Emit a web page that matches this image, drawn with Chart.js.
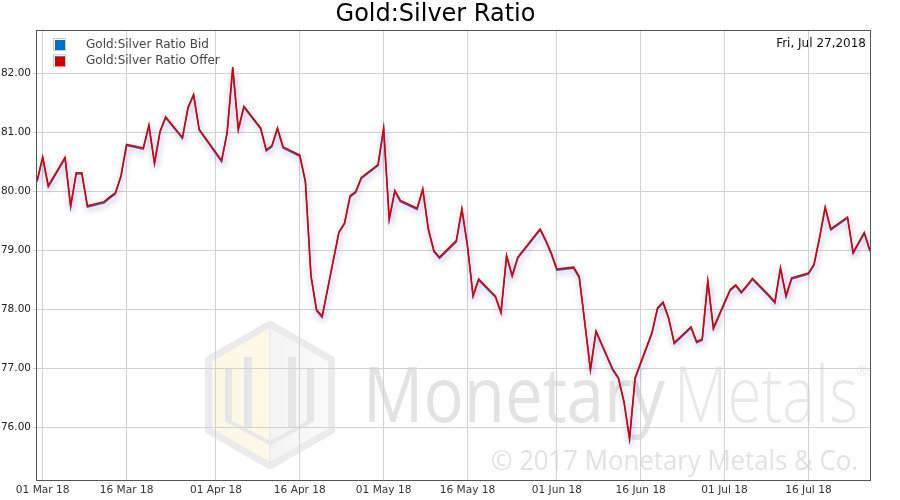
<!DOCTYPE html>
<html>
<head>
<meta charset="utf-8">
<title>Gold:Silver Ratio</title>
<script src="https://cdn.jsdelivr.net/npm/chart.js@4.4.1/dist/chart.umd.min.js"></script>
<style>
  html, body { margin: 0; padding: 0; background: #fff; }
  #chartRatio { display: block; }
</style>
</head>
<body>
<canvas id="chartRatio" width="900" height="500"></canvas>
<script>
// trading days shown on the chart
const dates = [
  "2018-02-28","2018-03-01","2018-03-02","2018-03-05","2018-03-06","2018-03-07","2018-03-08","2018-03-09",
  "2018-03-12","2018-03-13","2018-03-14","2018-03-15","2018-03-16",
  "2018-03-19","2018-03-20","2018-03-21","2018-03-22","2018-03-23",
  "2018-03-26","2018-03-27","2018-03-28","2018-03-29",
  "2018-04-02","2018-04-03","2018-04-04","2018-04-05","2018-04-06",
  "2018-04-09","2018-04-10","2018-04-11","2018-04-12","2018-04-13",
  "2018-04-16","2018-04-17","2018-04-18","2018-04-19","2018-04-20",
  "2018-04-23","2018-04-24","2018-04-25","2018-04-26","2018-04-27",
  "2018-04-30","2018-05-01","2018-05-02","2018-05-03","2018-05-04",
  "2018-05-07","2018-05-08","2018-05-09","2018-05-10","2018-05-11",
  "2018-05-14","2018-05-15","2018-05-16","2018-05-17","2018-05-18",
  "2018-05-21","2018-05-22","2018-05-23","2018-05-24","2018-05-25",
  "2018-05-29","2018-05-30","2018-05-31","2018-06-01",
  "2018-06-04","2018-06-05","2018-06-06","2018-06-07","2018-06-08",
  "2018-06-11","2018-06-12","2018-06-13","2018-06-14","2018-06-15",
  "2018-06-18","2018-06-19","2018-06-20","2018-06-21","2018-06-22",
  "2018-06-25","2018-06-26","2018-06-27","2018-06-28","2018-06-29",
  "2018-07-02","2018-07-03","2018-07-04","2018-07-05","2018-07-06",
  "2018-07-09","2018-07-10","2018-07-11","2018-07-12","2018-07-13",
  "2018-07-16","2018-07-17","2018-07-18","2018-07-19","2018-07-20",
  "2018-07-23","2018-07-24","2018-07-25","2018-07-26","2018-07-27"
];

const ratioBid = [
  80.16,80.56,80.07,80.55,79.73,80.29,80.29,79.73,
  79.80,79.88,79.95,80.24,80.77,
  80.71,81.10,80.46,81.00,81.24,
  80.89,81.40,81.62,81.03,
  80.50,80.98,82.08,81.03,81.42,
  81.05,80.68,80.75,81.05,80.73,
  80.59,80.15,78.55,77.97,77.86,
  79.29,79.44,79.90,79.97,80.21,
  80.43,81.05,79.51,79.99,79.82,
  79.69,80.02,79.34,78.97,78.86,
  79.14,79.68,79.06,78.21,78.49,
  78.20,77.93,78.89,78.55,78.86,
  79.34,79.15,78.93,78.66,
  78.69,78.53,77.75,76.96,77.61,
  76.96,76.82,76.42,75.79,76.82,
  77.58,78.00,78.10,77.83,77.41,
  77.68,77.43,77.47,78.46,77.66,
  78.31,78.39,78.27,78.38,78.50,
  78.21,78.10,78.68,78.21,78.51,
  78.59,78.74,79.20,79.71,79.34,
  79.54,78.94,79.11,79.28,78.98
];

const ratioOffer = [
  80.18,80.58,80.09,80.57,79.75,80.31,80.31,79.75,
  79.82,79.90,79.97,80.26,80.79,
  80.73,81.12,80.48,81.02,81.26,
  80.91,81.42,81.64,81.05,
  80.52,81.00,82.10,81.05,81.44,
  81.07,80.70,80.77,81.07,80.75,
  80.61,80.17,78.57,77.99,77.88,
  79.31,79.46,79.92,79.99,80.23,
  80.45,81.07,79.53,80.01,79.84,
  79.71,80.04,79.36,78.99,78.88,
  79.16,79.70,79.08,78.23,78.51,
  78.22,77.95,78.91,78.57,78.88,
  79.36,79.17,78.95,78.68,
  78.71,78.55,77.77,76.98,77.63,
  76.98,76.84,76.44,75.81,76.84,
  77.60,78.02,78.12,77.85,77.43,
  77.70,77.45,77.49,78.48,77.68,
  78.33,78.41,78.29,78.40,78.52,
  78.23,78.12,78.70,78.23,78.53,
  78.61,78.76,79.22,79.73,79.36,
  79.56,78.96,79.13,79.30,79.00
];

const yTickValues = [76, 77, 78, 79, 80, 81, 82];
const xTickDates = ["2018-03-01","2018-03-16","2018-04-01","2018-04-16","2018-05-01",
                    "2018-05-16","2018-06-01","2018-06-16","2018-07-01","2018-07-16"];
const seriesLabels = ["Gold:Silver Ratio Bid", "Gold:Silver Ratio Offer"];
const asOfText = "Fri, Jul 27,2018";

const ORIGIN = Date.parse("2018-03-01T00:00:00Z");
const DAY = 86400000;
const MONTHS = ["Jan","Feb","Mar","Apr","May","Jun","Jul","Aug","Sep","Oct","Nov","Dec"];

function dayNum(s) {
  return (Date.parse(s + "T00:00:00Z") - ORIGIN) / DAY;
}

function dayLabel(d) {
  const t = new Date(ORIGIN + Math.round(d) * DAY);
  return String(t.getUTCDate()).padStart(2, "0") + " " + MONTHS[t.getUTCMonth()] + " " +
    String(t.getUTCFullYear()).slice(2);
}

// text drawn squeezed/stretched to a given width
function fitText(ctx, text, x, y, width) {
  const w = ctx.measureText(text).width;
  ctx.save();
  ctx.translate(x, y);
  ctx.scale(width / w, 1);
  ctx.fillText(text, 0, 0);
  ctx.restore();
}

const watermark = {
  id: "watermark",
  beforeDraw(chart) {
    const ctx = chart.ctx;
    ctx.save();
    ctx.fillStyle = "#fff";
    ctx.fillRect(0, 0, chart.width, chart.height);

    // hexagon logo
    const cx = 270, cy = 395, r = 71;
    const pts = [];
    for (let k = 0; k < 6; k++) {
      const a = (-90 + 60 * k) * Math.PI / 180;
      pts.push([cx + r * Math.cos(a), cy + r * Math.sin(a)]);
    }
    ctx.beginPath();
    pts.forEach((p, i) => i ? ctx.lineTo(p[0], p[1]) : ctx.moveTo(p[0], p[1]));
    ctx.closePath();
    ctx.fillStyle = "#f7f7f7";
    ctx.fill();

    // left face cream, right face grey-white
    const left = ctx.createLinearGradient(cx - r, 0, cx, 0);
    left.addColorStop(0, "#fcf7e6");
    left.addColorStop(1, "#fdf8e8");
    ctx.beginPath();
    ctx.moveTo(pts[0][0], pts[0][1]);
    ctx.lineTo(pts[5][0], pts[5][1]);
    ctx.lineTo(pts[4][0], pts[4][1]);
    ctx.lineTo(pts[3][0], pts[3][1]);
    ctx.closePath();
    ctx.fillStyle = left;
    ctx.fill();
    const right = ctx.createLinearGradient(cx, 0, cx + r, 0);
    right.addColorStop(0, "#f4f4f4");
    right.addColorStop(1, "#fbfbfb");
    ctx.beginPath();
    ctx.moveTo(pts[0][0], pts[0][1]);
    ctx.lineTo(pts[1][0], pts[1][1]);
    ctx.lineTo(pts[2][0], pts[2][1]);
    ctx.lineTo(pts[3][0], pts[3][1]);
    ctx.closePath();
    ctx.fillStyle = right;
    ctx.fill();

    ctx.beginPath();
    pts.forEach((p, i) => i ? ctx.lineTo(p[0], p[1]) : ctx.moveTo(p[0], p[1]));
    ctx.closePath();
    ctx.lineWidth = 7;
    ctx.lineJoin = "round";
    ctx.strokeStyle = "#ebebeb";
    ctx.stroke();

    ctx.strokeStyle = "#ececec";
    ctx.lineWidth = 2;
    ctx.beginPath();
    ctx.moveTo(cx, cy - r + 3);
    ctx.lineTo(cx, cy + r - 3);
    ctx.stroke();

    // "M" bars
    ctx.fillStyle = "#e6e6e6";
    ctx.fillRect(225, 368, 7, 54);
    ctx.fillRect(244, 357, 8, 70);
    ctx.fillRect(288, 357, 8, 70);
    ctx.fillRect(307, 368, 7, 54);
    ctx.strokeStyle = "#e8e8e8";
    ctx.lineWidth = 4;
    ctx.beginPath();
    ctx.moveTo(228, 421);
    ctx.lineTo(cx, 443);
    ctx.lineTo(311, 421);
    ctx.stroke();

    // brand text
    ctx.textBaseline = "alphabetic";
    ctx.fillStyle = "#e3e3e3";
    ctx.font = "400 77px 'Open Sans', sans-serif";
    fitText(ctx, "Monetary", 363, 422, 302);
    ctx.fillStyle = "#e9e9e9";
    ctx.font = "300 77px 'Open Sans', sans-serif";
    fitText(ctx, "Metals", 674, 422, 184);
    ctx.font = "14px 'Open Sans', sans-serif";
    ctx.fillText("\u00AE", 856, 376);

    ctx.fillStyle = "#e2e2e2";
    ctx.font = "400 28px 'Open Sans', sans-serif";
    fitText(ctx, "\u00A9 2017 Monetary Metals & Co.", 491, 470, 367);
    ctx.restore();
  }
};

const lineShadow = {
  id: "lineShadow",
  beforeDatasetsDraw(chart) {
    const ctx = chart.ctx;
    ctx.save();
    ctx.shadowColor = "rgba(90, 70, 170, 0.32)";
    ctx.shadowBlur = 6;
    ctx.shadowOffsetX = 1;
    ctx.shadowOffsetY = 3;
  },
  afterDatasetsDraw(chart) {
    chart.ctx.restore();
  }
};

const frameAndLegend = {
  id: "frameAndLegend",
  afterDraw(chart) {
    const ctx = chart.ctx;
    const a = chart.chartArea;
    ctx.save();
    ctx.strokeStyle = "#555";
    ctx.lineWidth = 1;
    ctx.strokeRect(Math.round(a.left) + 0.5, Math.round(a.top) + 0.5,
      Math.round(a.right - a.left) - 1, Math.round(a.bottom - a.top) - 1);

    ctx.font = "12px 'DejaVu Sans', sans-serif";
    ctx.textBaseline = "middle";
    chart.data.datasets.forEach((ds, i) => {
      const bx = a.left + 17, by = a.top + 8 + i * 16.3;
      ctx.strokeStyle = "#c8c8c8";
      ctx.strokeRect(bx + 0.5, by + 0.5, 12, 12);
      ctx.fillStyle = ds.legendColor;
      ctx.fillRect(bx + 2, by + 2, 10, 10);
      ctx.fillStyle = "#444";
      ctx.textAlign = "left";
      ctx.fillText(ds.label, a.left + 50, by + 6.5);
    });

    ctx.fillStyle = "#111";
    ctx.textAlign = "right";
    ctx.fillText(asOfText, a.right - 5, a.top + 13.5);
    ctx.restore();
  }
};

Chart.defaults.font.family = "'DejaVu Sans', sans-serif";

new Chart(document.getElementById("chartRatio"), {
  type: "line",
  data: {
    datasets: [
      {
        label: seriesLabels[0],
        data: dates.map((d, i) => ({ x: dayNum(d), y: ratioBid[i] })),
        borderColor: "#2d63b4",
        legendColor: "#0070c0",
        borderWidth: 1.5,
        pointRadius: 0,
        tension: 0,
        fill: false,
        order: 1
      },
      {
        label: seriesLabels[1],
        data: dates.map((d, i) => ({ x: dayNum(d), y: ratioOffer[i] })),
        borderColor: "#d00000",
        legendColor: "#c80000",
        borderWidth: 1.5,
        pointRadius: 0,
        tension: 0,
        fill: false,
        order: 0
      }
    ]
  },
  options: {
    responsive: false,
    animation: false,
    devicePixelRatio: 1,
    layout: { padding: { left: 0, right: 29, top: 0, bottom: 0 } },
    plugins: {
      legend: { display: false },
      tooltip: { enabled: false },
      title: {
        display: true,
        text: "Gold:Silver Ratio",
        color: "#000",
        font: { size: 24, weight: "normal" },
        padding: { top: 0, bottom: 1.2 }
      }
    },
    scales: {
      x: {
        type: "linear",
        min: -1.2,
        max: 148.2,
        afterBuildTicks: s => { s.ticks = xTickDates.map(d => ({ value: dayNum(d) })); },
        afterFit: s => { s.height = 19.3; },
        ticks: {
          autoSkip: false,
          maxRotation: 0,
          padding: 3,
          color: "#333",
          font: { size: 10.6 },
          callback: v => dayLabel(v)
        },
        grid: { color: "#d2d2d2", tickLength: 0 },
        border: { display: false }
      },
      y: {
        min: 75.09,
        max: 82.73,
        afterBuildTicks: s => { s.ticks = yTickValues.map(v => ({ value: v })); },
        afterFit: s => { s.width = 36; },
        ticks: {
          padding: 2,
          color: "#222",
          font: { size: 10.5 },
          callback: v => v.toFixed(2)
        },
        grid: { color: "#d2d2d2", tickLength: 3 },
        border: { display: false }
      }
    }
  },
  plugins: [watermark, lineShadow, frameAndLegend]
});
</script>
</body>
</html>
